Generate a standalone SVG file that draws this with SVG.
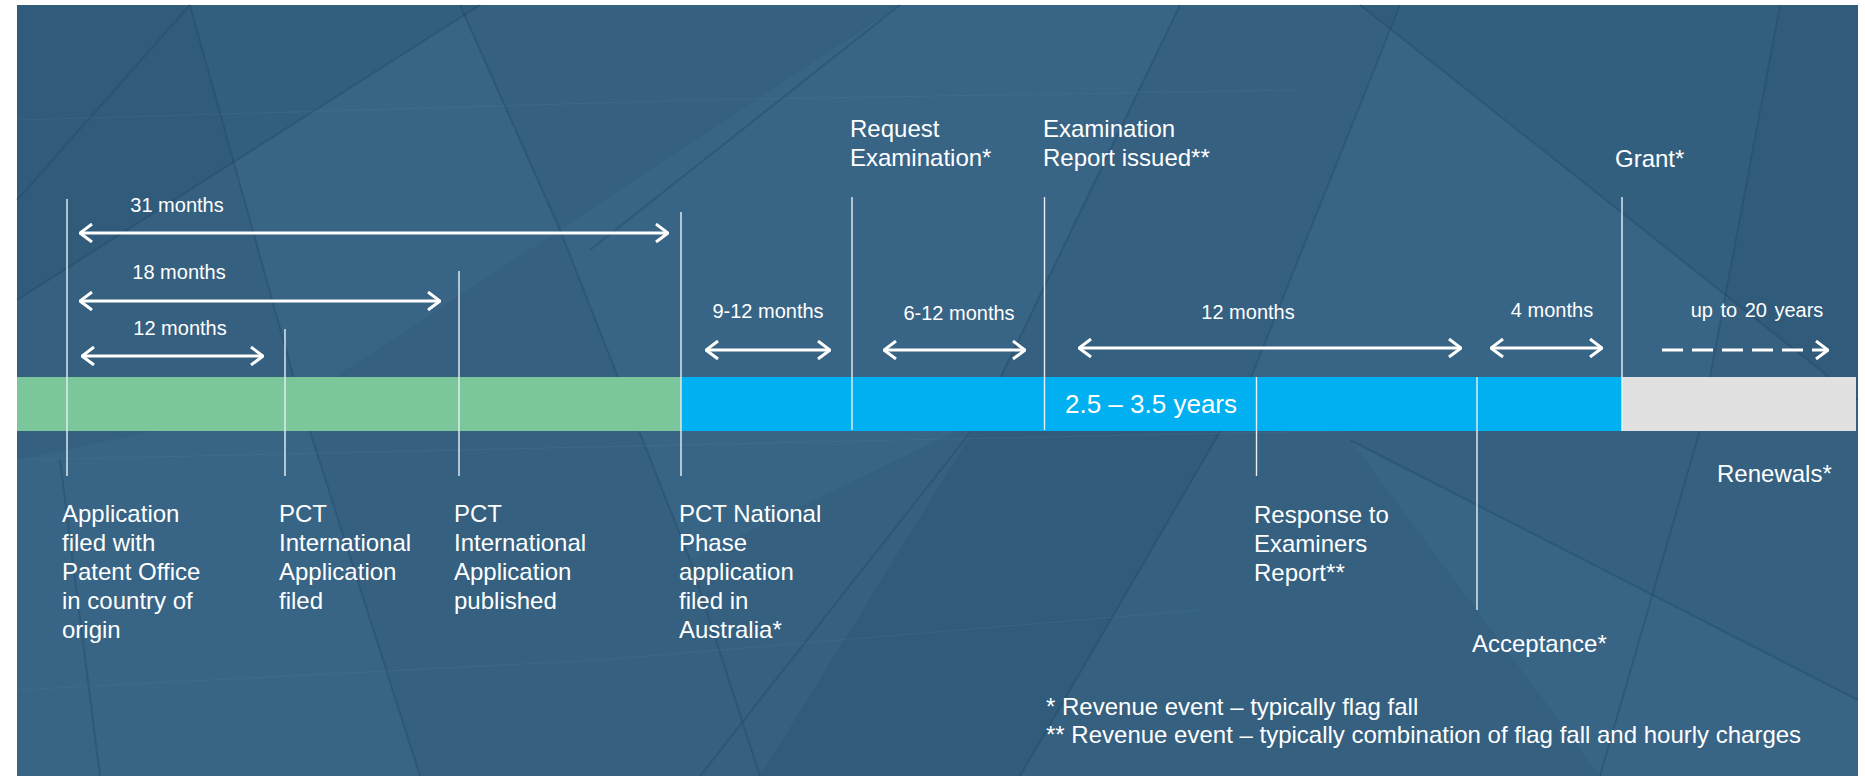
<svg xmlns="http://www.w3.org/2000/svg" width="1865" height="776" viewBox="0 0 1865 776">
<defs>
<style>
.t{font-family:"Liberation Sans",Arial,Helvetica,sans-serif;fill:#ffffff}
.ev{font-size:24px}
.dur{font-size:20px;text-anchor:middle}
.tick{stroke:#e9eff4;stroke-width:1.4}
.arr{stroke:#ffffff;stroke-width:3;fill:none;marker-start:url(#chev);marker-end:url(#chev)}
.seam{stroke:#1f4466;stroke-width:2;fill:none;opacity:.35}
.seamL{stroke:#5d86a6;stroke-width:1.2;fill:none;opacity:.18}
.faceL{fill:#46739a;opacity:.22}
.faceD{fill:#24496b;opacity:.2}
</style>
<marker id="chev" viewBox="0 0 14 20" refX="13" refY="10" markerWidth="14" markerHeight="20" markerUnits="userSpaceOnUse" orient="auto-start-reverse">
<path d="M1,1 L13,10 L1,19" fill="none" stroke="#ffffff" stroke-width="3"/>
</marker>
<marker id="head" viewBox="0 0 14 20" refX="13" refY="10" markerWidth="14" markerHeight="20" markerUnits="userSpaceOnUse" orient="auto">
<path d="M1,1 L13,10 L1,19" fill="none" stroke="#ffffff" stroke-width="3"/>
</marker>
</defs>

<rect x="0" y="0" width="1865" height="776" fill="#ffffff"/>

<g id="background">
<rect x="17" y="5" width="1841" height="771" fill="#35607f"/>
<polygon class="faceL" points="190,5 460,5 560,230 300,400"/>
<polygon class="faceL" points="560,230 900,5 1180,5 980,420 690,560"/>
<polygon class="faceD" points="17,300 480,5 190,5 17,5"/>
<polygon class="faceL" points="1250,380 1400,5 1780,5 1700,430"/>
<polygon class="faceD" points="1360,5 1858,400 1858,5"/>
<polygon class="faceL" points="17,460 300,400 420,776 17,776"/>
<polygon class="faceD" points="980,420 1250,380 1020,776 760,776"/>
<polygon class="faceL" points="1350,440 1858,700 1858,776 1600,776"/>
<path class="seam" d="M190,5 L300,400 L420,776"/>
<path class="seam" d="M460,5 L560,230 L690,560 L760,776"/>
<path class="seam" d="M590,250 L900,5"/>
<path class="seam" d="M17,300 L480,5"/>
<path class="seam" d="M1360,5 L1858,400"/>
<path class="seam" d="M1350,440 L1858,700"/>
<path class="seam" d="M1020,776 L1250,380 L1400,5"/>
<path class="seam" d="M700,776 L980,420 L1180,5"/>
<path class="seam" d="M1600,776 L1700,430 L1780,5"/>
<path class="seamL" d="M17,120 L700,100 L1300,90"/>
<path class="seamL" d="M17,460 L900,440 L1858,420"/>
<path class="seamL" d="M17,690 L600,660 L1200,610"/>
<path class="seam" d="M17,200 L190,5"/>
<path class="seam" d="M100,776 L60,460"/>
</g>

<g id="timeline-bar">
<rect x="17" y="377" width="664" height="54" fill="#7bc69b"/>
<rect x="681" y="377" width="941" height="54" fill="#00b0f0"/>
<rect x="1622" y="377" width="234" height="54" fill="#e1e1e1"/>
<text class="t" x="1065" y="413" font-size="26">2.5 – 3.5 years</text>
</g>

<g id="node-application">
<line class="tick" x1="67" y1="199" x2="67" y2="476"/>
<text class="t ev" x="62" y="522">Application</text>
<text class="t ev" x="62" y="551">filed with</text>
<text class="t ev" x="62" y="580">Patent Office</text>
<text class="t ev" x="62" y="609">in country of</text>
<text class="t ev" x="62" y="638">origin</text>
</g>

<g id="node-pct-filed">
<line class="tick" x1="285" y1="329" x2="285" y2="476"/>
<text class="t ev" x="279" y="522">PCT</text>
<text class="t ev" x="279" y="551">International</text>
<text class="t ev" x="279" y="580">Application</text>
<text class="t ev" x="279" y="609">filed</text>
</g>

<g id="node-pct-published">
<line class="tick" x1="459" y1="271" x2="459" y2="476"/>
<text class="t ev" x="454" y="522">PCT</text>
<text class="t ev" x="454" y="551">International</text>
<text class="t ev" x="454" y="580">Application</text>
<text class="t ev" x="454" y="609">published</text>
</g>

<g id="node-pct-national">
<line class="tick" x1="681" y1="212" x2="681" y2="476"/>
<text class="t ev" x="679" y="522">PCT National</text>
<text class="t ev" x="679" y="551">Phase</text>
<text class="t ev" x="679" y="580">application</text>
<text class="t ev" x="679" y="609">filed in</text>
<text class="t ev" x="679" y="638">Australia*</text>
</g>

<g id="node-request-examination">
<line class="tick" x1="852" y1="197" x2="852" y2="430"/>
<text class="t ev" x="850" y="137">Request</text>
<text class="t ev" x="850" y="166">Examination*</text>
</g>

<g id="node-examination-report">
<line class="tick" x1="1044.5" y1="197" x2="1044.5" y2="430"/>
<text class="t ev" x="1043" y="137">Examination</text>
<text class="t ev" x="1043" y="166">Report issued**</text>
</g>

<g id="node-response">
<line class="tick" x1="1256.5" y1="377" x2="1256.5" y2="476"/>
<text class="t ev" x="1254" y="523">Response to</text>
<text class="t ev" x="1254" y="552">Examiners</text>
<text class="t ev" x="1254" y="581">Report**</text>
</g>

<g id="node-acceptance">
<line class="tick" x1="1477" y1="377" x2="1477" y2="610"/>
<text class="t ev" x="1472" y="652">Acceptance*</text>
</g>

<g id="node-grant">
<line class="tick" x1="1622" y1="197" x2="1622" y2="431"/>
<text class="t ev" x="1615" y="167">Grant*</text>
</g>

<g id="node-renewals">
<text class="t ev" x="1717" y="482">Renewals*</text>
</g>

<g id="connectors">
<line class="arr" x1="80" y1="233" x2="668" y2="233"/>
<text class="t dur" x="177" y="212">31 months</text>
<line class="arr" x1="80" y1="301" x2="440" y2="301"/>
<text class="t dur" x="179" y="279">18 months</text>
<line class="arr" x1="82" y1="356" x2="263" y2="356"/>
<text class="t dur" x="180" y="335">12 months</text>
<line class="arr" x1="706" y1="350" x2="830" y2="350"/>
<text class="t dur" x="768" y="318">9-12 months</text>
<line class="arr" x1="884" y1="350" x2="1025" y2="350"/>
<text class="t dur" x="959" y="320">6-12 months</text>
<line class="arr" x1="1079" y1="348" x2="1461" y2="348"/>
<text class="t dur" x="1248" y="319">12 months</text>
<line class="arr" x1="1491" y1="348" x2="1602" y2="348"/>
<text class="t dur" x="1552" y="317">4 months</text>
<line x1="1662" y1="350" x2="1828" y2="350" stroke="#ffffff" stroke-width="3" stroke-dasharray="21 9" marker-end="url(#head)"/>
<text class="t dur" x="1757" y="317" word-spacing="2">up to 20 years</text>
</g>

<g id="footnotes">
<text class="t ev" x="1046" y="715">* Revenue event – typically flag fall</text>
<text class="t ev" x="1046" y="743">** Revenue event – typically combination of flag fall and hourly charges</text>
</g>
</svg>
